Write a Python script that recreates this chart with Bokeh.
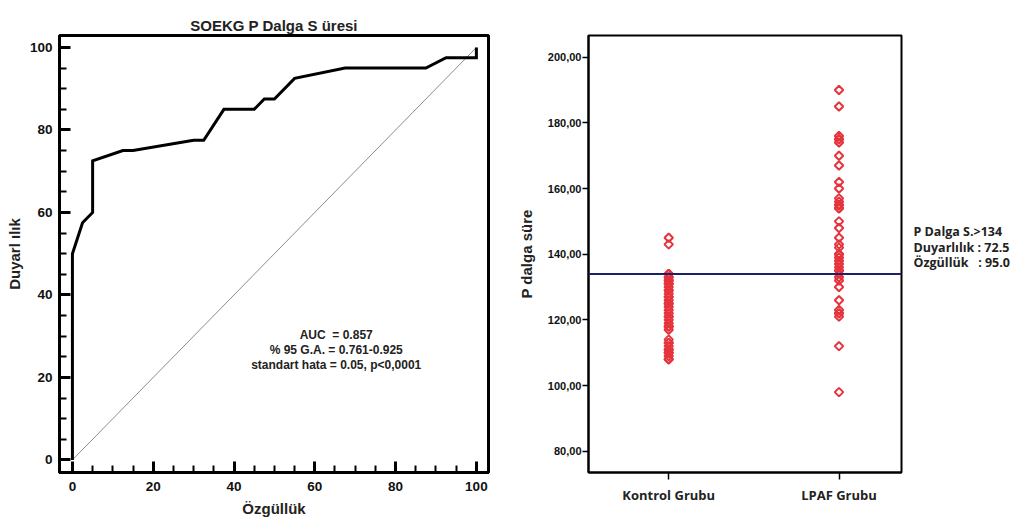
import math
from bokeh.plotting import figure
from bokeh.models import Range1d, SingleIntervalTicker, FixedTicker, Label, Span, ColumnDataSource
from bokeh.layouts import row
from bokeh.embed import file_html
from bokeh.resources import INLINE

# ---------------- data: ROC curve ----------------
roc_title = "SOEKG P Dalga S üresi"
roc_x = [0, 0, 2.5, 5, 5, 12.5, 15, 30, 32.5, 37.5, 45, 47.5, 50, 55, 67.5, 87.5, 92.5, 100, 100]
roc_y = [0, 50, 57.5, 60, 72.5, 75, 75, 77.5, 77.5, 85, 85, 87.5, 87.5, 92.5, 95, 95, 97.5, 97.5, 100]
diag_x = [0, 100]
diag_y = [0, 100]
roc_xlabel = "Özgüllük"
roc_ylabel = "Duyarl ılık"
auc_lines = ["AUC\u00a0\u00a0= 0.857", "% 95 G.A. = 0.761-0.925", "standart hata = 0.05, p<0,0001"]

# ---------------- data: dot plot ----------------
groups = ["Kontrol Grubu", "LPAF Grubu"]
kontrol_values = [145, 143,
                  134, 134, 133, 133, 132, 132, 131, 131, 130, 129, 129, 128, 127, 127, 126, 125, 125,
                  124, 123, 122, 121, 121, 120, 119, 118, 118, 117,
                  114, 113, 113, 112, 111, 111, 110, 110, 109, 108, 108]
lpaf_values = [190, 185, 176, 175, 175, 174, 170, 167, 162, 160, 157, 156, 155, 155, 154, 154,
               150, 148, 145, 143, 142, 140, 140, 139, 138, 137, 136, 135, 135,
               134, 133, 132, 130, 126, 123, 122, 122, 121, 112, 98]
cutoff = 134
dot_ylabel = "P dalga süre"
y_ticks = [80, 100, 120, 140, 160, 180, 200]
y_tick_labels = ["80,00", "100,00", "120,00", "140,00", "160,00", "180,00", "200,00"]
cutoff_lines = ["P Dalga S.>134", "Duyarlılık : 72.5", "Özgüllük\u00a0\u00a0 : 95.0"]

ARIAL = "Liberation Sans"

# ---------------- left: ROC ----------------
p1 = figure(width=500, height=523, x_range=Range1d(-3.2, 103.0), y_range=Range1d(-3.05, 102.9),
            output_backend="svg", toolbar_location=None, title=roc_title,
            min_border_left=59, min_border_right=12, min_border_top=30, min_border_bottom=51)
p1.grid.visible = False
p1.outline_line_color = "black"
p1.outline_line_width = 3
p1.title.align = "center"
p1.title.vertical_align = "top"
p1.title.text_font = ARIAL
p1.title.text_font_size = "15px"
p1.title.text_font_style = "bold"
p1.title.text_color = "#222222"
p1.title.standoff = 0

for ax in (p1.xaxis[0], p1.yaxis[0]):
    ax.ticker = SingleIntervalTicker(interval=20, num_minor_ticks=4)
    ax.axis_line_width = 3
    ax.major_tick_in = 11
    ax.major_tick_out = 0
    ax.minor_tick_in = 7
    ax.minor_tick_out = 0
    ax.major_tick_line_width = 3
    ax.minor_tick_line_width = 2
    ax.major_label_text_font = ARIAL
    ax.major_label_text_font_style = "bold"
    ax.major_label_text_font_size = "13.5px"
    ax.major_label_text_color = "#111111"
    ax.axis_label_text_font = ARIAL
    ax.axis_label_text_font_style = "bold"
    ax.axis_label_text_font_size = "15px"
    ax.axis_label_text_color = "#222222"
p1.xaxis.axis_label = roc_xlabel
p1.yaxis.axis_label = roc_ylabel
p1.xaxis.major_label_standoff = 9
p1.yaxis.major_label_standoff = 7
p1.xaxis.axis_label_standoff = 6
p1.yaxis.axis_label_standoff = 4

p1.line(diag_x, diag_y, line_color="#8c8c8c", line_width=1)
p1.line(roc_x, roc_y, line_color="black", line_width=3, line_join="miter")

auc_pos_y = [30.2, 26.6, 22.9]
for txt, yy in zip(auc_lines, auc_pos_y):
    p1.add_layout(Label(x=65.3, y=yy, text=txt, text_align="center", text_baseline="middle",
                        text_font=ARIAL, text_font_size="12px", text_font_style="bold",
                        text_color="#222222"))

# ---------------- middle: dot plot ----------------
p2 = figure(width=413, height=523, x_range=Range1d(0.529, 2.367), y_range=Range1d(73.53, 206.6),
            output_backend="svg", toolbar_location=None,
            min_border_left=88, min_border_right=12, min_border_top=35, min_border_bottom=50)
p2.grid.visible = False
p2.outline_line_color = "black"
p2.outline_line_width = 2

xs = [1] * len(kontrol_values) + [2] * len(lpaf_values)
ys = kontrol_values + lpaf_values
src = ColumnDataSource(dict(x=xs, y=ys))
p2.scatter("x", "y", source=src, marker="square", angle=math.pi / 4, size=6,
           fill_color=None, line_color="#e6333b", line_width=2)

p2.add_layout(Span(location=cutoff, dimension="width", line_color="#1f2166", line_width=2))

p2.yaxis.ticker = FixedTicker(ticks=y_ticks)
p2.yaxis.major_label_overrides = {t: l for t, l in zip(y_ticks, y_tick_labels)}
p2.xaxis.ticker = FixedTicker(ticks=[1, 2])
p2.xaxis.major_label_overrides = {i + 1: g for i, g in enumerate(groups)}
for ax in (p2.xaxis[0], p2.yaxis[0]):
    ax.axis_line_width = 2
    ax.major_tick_in = 0
    ax.major_tick_out = 7
    ax.minor_tick_line_color = None
    ax.major_tick_line_width = 1.5
p2.yaxis.major_tick_out = 6
p2.yaxis.major_label_text_font = ARIAL
p2.yaxis.major_label_text_font_style = "bold"
p2.yaxis.major_label_text_font_size = "11px"
p2.yaxis.major_label_text_color = "#111111"
p2.yaxis.major_label_standoff = 1
p2.xaxis.major_label_text_font = "Open Sans"
p2.xaxis.major_label_text_font_style = "bold"
p2.xaxis.major_label_text_font_size = "13px"
p2.xaxis.major_label_text_color = "#222222"
p2.xaxis.major_label_standoff = 6
p2.yaxis.axis_label = dot_ylabel
p2.yaxis.axis_label_text_font = ARIAL
p2.yaxis.axis_label_text_font_style = "bold"
p2.yaxis.axis_label_text_font_size = "15px"
p2.yaxis.axis_label_text_color = "#222222"
p2.yaxis.axis_label_standoff = 10

# ---------------- right: cut-off note (its own small canvas, pixel coordinates) ----------------
p3 = figure(width=105, height=523, x_range=Range1d(0, 105), y_range=Range1d(523, 0),
            output_backend="svg", toolbar_location=None,
            min_border_left=0, min_border_right=0, min_border_top=0, min_border_bottom=0)
p3.axis.visible = False
p3.grid.visible = False
p3.outline_line_color = None
cut_pos_y = [235, 253.5, 272]
for txt, yy in zip(cutoff_lines, cut_pos_y):
    p3.add_layout(Label(x=0, y=yy, text=txt, text_align="left", text_baseline="middle",
                        text_font="Open Sans", text_font_size="12.5px", text_font_style="bold",
                        text_color="#222222"))

layout = row(p1, p2, p3)
open("out.html", "w").write(file_html(layout, INLINE))
